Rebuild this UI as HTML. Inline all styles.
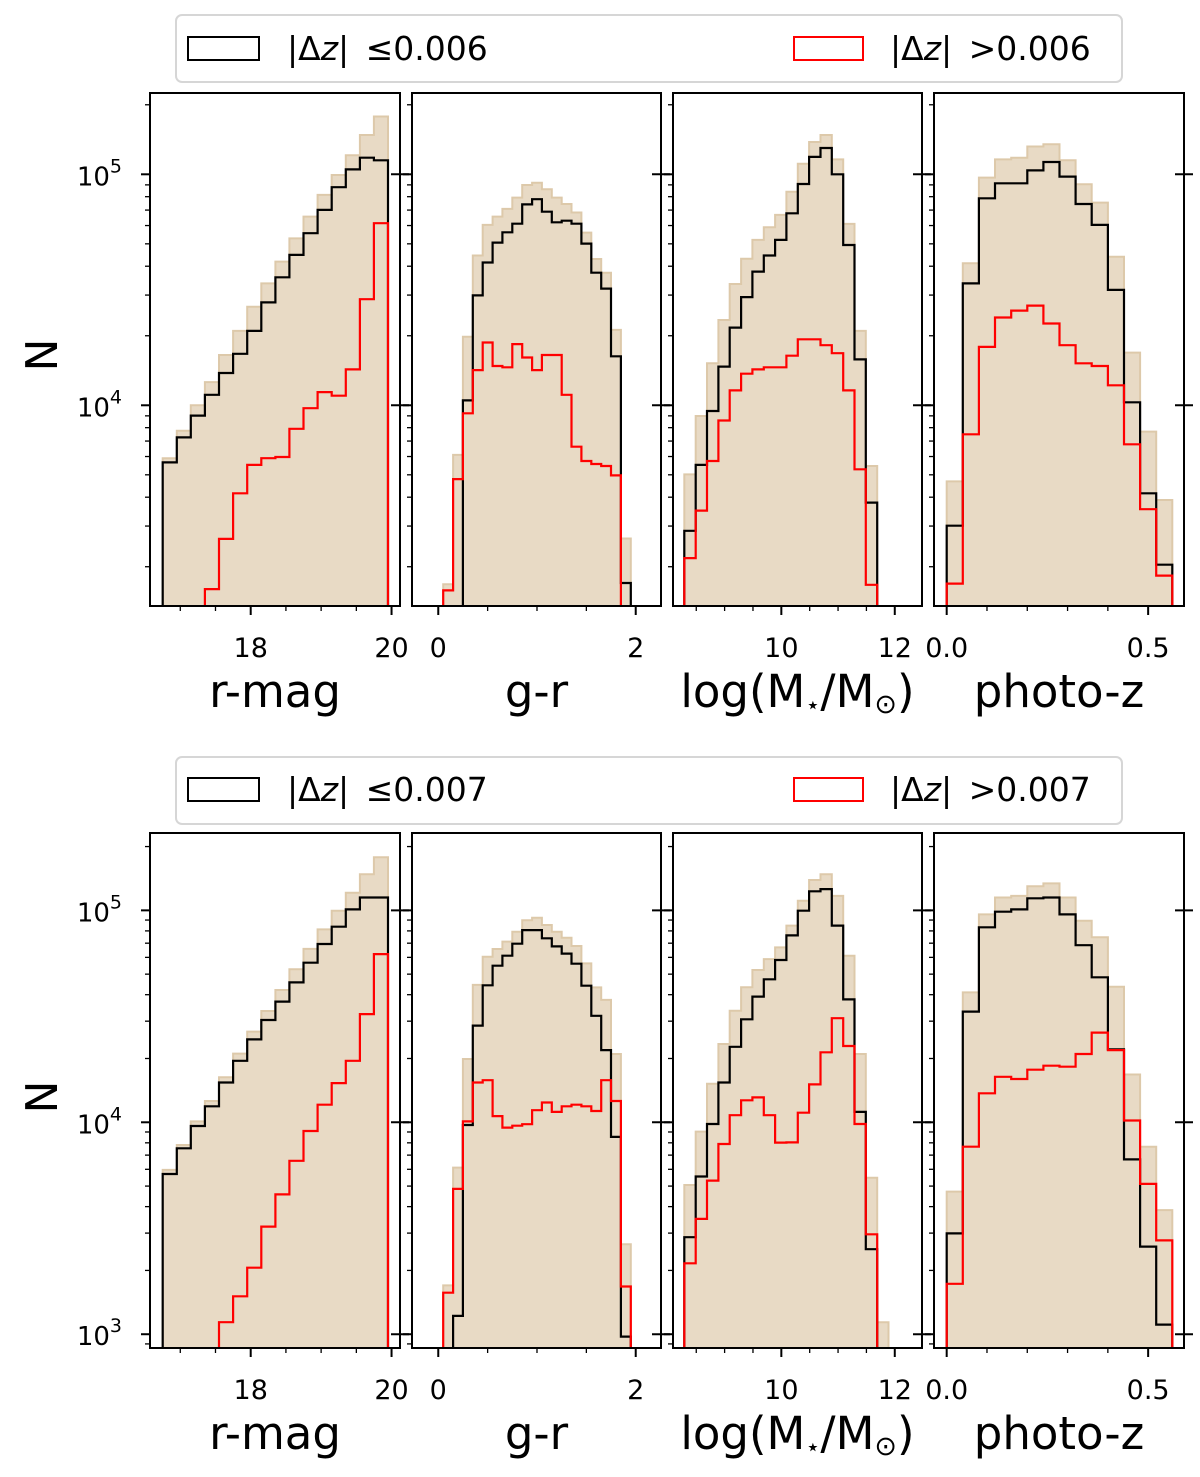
<!DOCTYPE html>
<html><head><meta charset="utf-8"><style>
html,body{margin:0;padding:0;background:#fff;}
svg{display:block;font-family:"DejaVu Sans","Liberation Sans",sans-serif;}
</style></head><body>
<svg id="chart" width="1200" height="1477" viewBox="0 0 1200 1477" xmlns="http://www.w3.org/2000/svg">
<g>
<rect x="176" y="15" width="946" height="67" rx="6" fill="#fff" stroke="#d6d6d6" stroke-width="2"/>
<rect x="188" y="37" width="71" height="23" fill="none" stroke="#000" stroke-width="2"/>
<text x="287" y="60" font-size="33">|Δ<tspan font-style="italic">z</tspan>| <tspan dx="6">≤</tspan>0.006</text>
<rect x="794" y="37" width="69" height="23" fill="none" stroke="#f00" stroke-width="2"/>
<text x="890" y="60" font-size="33">|Δ<tspan font-style="italic">z</tspan>| <tspan dx="6">&gt;</tspan>0.006</text>
</g>
<g>
<rect x="176" y="757" width="946" height="67" rx="6" fill="#fff" stroke="#d6d6d6" stroke-width="2"/>
<rect x="188" y="778" width="71" height="23" fill="none" stroke="#000" stroke-width="2"/>
<text x="287" y="801" font-size="33">|Δ<tspan font-style="italic">z</tspan>| <tspan dx="6">≤</tspan>0.007</text>
<rect x="794" y="778" width="69" height="23" fill="none" stroke="#f00" stroke-width="2"/>
<text x="890" y="801" font-size="33">|Δ<tspan font-style="italic">z</tspan>| <tspan dx="6">&gt;</tspan>0.007</text>
</g>
<text transform="translate(57,355) rotate(-90)" text-anchor="middle" font-size="44">N</text>
<text transform="translate(57,1097) rotate(-90)" text-anchor="middle" font-size="44">N</text>
<g id="plots"></g>
</svg>
<script>
// ---- bin definitions (value units) ----
const rmagEdgeStart = 16.75, rmagBinWidth = 0.2;
const grEdgeStart = 0.05, grBinWidth = 0.1;
const massEdgeStart = 8.29, massBinWidth = 0.2;
const pzEdgeStart = 0.0, pzBinWidth = 0.04;

// ---- TOP ROW (|dz| 0.006) ----
const rmagAllTop  = [5900,7760,10000,12600,16500,21000,26700,33700,41900,52800,65600,81400,99300,121000,148000,178000];
const rmagLowTop  = [5660,7260,9020,11100,13800,16700,21000,27900,35800,44800,55600,70100,87900,105000,118000,115000];
const rmagHighTop = [0,0,0,1600,2640,4160,5520,5900,5970,7910,9710,11400,11000,14300,28800,61400];

const grAllTop  = [1680,6100,19800,44500,60400,65600,70800,79300,89900,92000,86100,79300,74400,68300,55900,43000,37500,21200,2650];
const grLowTop  = [0,0,10500,29900,41500,50600,56100,61100,74100,78000,68900,62000,63000,61100,50100,37500,32000,16300,1700];
const grHighTop = [1580,4790,9230,14200,18700,14800,14600,18400,16100,14200,16500,16500,11100,6620,5740,5570,5460,4970,0];

const massAllTop  = [5020,8990,15200,23400,33500,43100,52000,59000,66700,84100,111000,138000,148000,116000,61000,21000,5460];
const massLowTop  = [2860,5520,9450,14700,21700,29400,37900,44500,52000,67800,90800,119000,130000,100000,49400,15800,3790];
const massHighTop = [2180,3500,5740,8590,11600,13700,14300,14600,14600,16400,19300,19300,18200,16800,11600,5280,1670];

const pzAllTop  = [4680,41200,96800,116000,118000,132000,135000,115000,90600,75400,44000,16900,7690,3890];
const pzLowTop  = [3010,33700,78700,91400,91400,104000,113000,97700,74400,60400,31600,10300,4160,2040];
const pzHighTop = [1690,7490,17900,24000,25700,27000,22600,18200,15200,14800,12200,6780,3550,1830];

// ---- BOTTOM ROW (|dz| 0.007) ----
const rmagAllBot  = [5960,7810,10100,12600,16300,21100,26800,33500,42100,52700,65800,81300,99500,121000,148000,178000];
const rmagLowBot  = [5700,7540,9610,11900,15400,19500,24600,30400,37100,45700,56600,69400,83700,101000,115000,115000];
const rmagHighBot = [0,0,0,0,1140,1510,2060,3220,4570,6580,9100,12100,15300,19500,32400,62200];

const grAllBot  = [1700,6110,19900,44500,60400,65700,71200,79300,89900,92300,85300,79300,74300,67900,56200,43300,37800,21000,2660];
const grLowBot  = [0,1220,9710,28600,44300,54800,61100,69600,80700,80700,73800,67600,62500,56000,44100,31800,21900,8530,975];
const grHighBot = [1570,4850,10100,15400,15800,10700,9440,9640,9790,11400,12400,11200,11900,12100,11900,11300,15800,12600,1680];

const massAllBot  = [5060,9040,15200,23400,33600,43400,52300,58900,66900,84700,111000,139000,148000,117000,61100,21000,5480,1140];
const massLowBot  = [2870,5550,9820,15400,22700,30600,39200,47300,58300,76200,99600,123000,126000,84700,38000,11200,2520,0];
const massHighBot = [2160,3500,5310,7900,10800,12700,13100,10800,8020,8040,11100,15100,21400,31000,22900,9820,2960,0];

const pzAllBot  = [4710,41000,95700,115000,117000,130000,134000,115000,89300,74600,43600,16800,7670,3850];
const pzLowBot  = [2990,33300,83200,98600,101000,114000,115000,95700,68500,48300,22100,6680,2590,1110];
const pzHighBot = [1730,7670,13700,16400,16000,17700,18500,18300,21000,26500,21900,10200,5120,2770];

// ---- tick labels ----
const yTickExpTop = [4,5];
const yTickExpBot = [3,4,5];
const rmagTicks = [18,20], grTicks = [0,2], massTicks = [10,12], pzTicks = [0.0,0.5];
const rmagTickLabels = ["18","20"], grTickLabels = ["0","2"], massTickLabels = ["10","12"], pzTickLabels = ["0.0","0.5"];

const NS = "http://www.w3.org/2000/svg";
const plots = document.getElementById('plots');
function mk(tag, attrs, parent){ const e=document.createElementNS(NS,tag); for(const k in attrs) e.setAttribute(k,attrs[k]); (parent||plots).appendChild(e); return e; }

const rows = [
  {top:93, bot:606, lmin:3.131, lmax:5.352, exps:yTickExpTop, sets:[
    [rmagAllTop,rmagLowTop,rmagHighTop],[grAllTop,grLowTop,grHighTop],[massAllTop,massLowTop,massHighTop],[pzAllTop,pzLowTop,pzHighTop]]},
  {top:833, bot:1348, lmin:2.935, lmax:5.365, exps:yTickExpBot, sets:[
    [rmagAllBot,rmagLowBot,rmagHighBot],[grAllBot,grLowBot,grHighBot],[massAllBot,massLowBot,massHighBot],[pzAllBot,pzLowBot,pzHighBot]]}
];
const cols = [
  {name:'r-mag', x0:150, x1:400, dmin:16.57, dmax:20.12, start:rmagEdgeStart, w:rmagBinWidth, ticks:rmagTicks, labels:rmagTickLabels, minor:0.5, title:'r-mag'},
  {name:'g-r', x0:412, x1:661, dmin:-0.266, dmax:2.256, start:grEdgeStart, w:grBinWidth, ticks:grTicks, labels:grTickLabels, minor:0.5, title:'g-r'},
  {name:'stellar-mass', x0:673, x1:922, dmin:8.09, dmax:12.48, start:massEdgeStart, w:massBinWidth, ticks:massTicks, labels:massTickLabels, minor:0.5, title:'mass'},
  {name:'photo-z', x0:934, x1:1184, dmin:-0.0315, dmax:0.589, start:pzEdgeStart, w:pzBinWidth, ticks:pzTicks, labels:pzTickLabels, minor:0.1, title:'photo-z'}
];

rows.forEach((row, ri) => {
  const yScale = v => { const l = v>0 ? Math.log10(v) : row.lmin-1; return row.bot - (l-row.lmin)/(row.lmax-row.lmin)*(row.bot-row.top); };
  cols.forEach((col, ci) => {
    const xScale = v => col.x0 + (v-col.dmin)/(col.dmax-col.dmin)*(col.x1-col.x0);
    const g = mk('g', {});
    
    
    const cid = 'clip'+ri+ci;
    const cp = mk('clipPath', {id:cid}, g);
    mk('rect', {x:col.x0, y:row.top, width:col.x1-col.x0, height:row.bot-row.top}, cp);
    const data = row.sets[ci];
    const yb = row.bot + 5;
    function stepPath(vals){
      let d = '';
      vals.forEach((v,i) => {
        const xa = xScale(col.start + i*col.w), xb = xScale(col.start + (i+1)*col.w);
        const y = v>0 ? yScale(v) : yb;
        d += (i===0 ? 'M'+xa.toFixed(1)+','+yb+' ' : '') + 'L'+xa.toFixed(1)+','+y.toFixed(1)+' L'+xb.toFixed(1)+','+y.toFixed(1)+' ';
      });
      d += 'L'+xScale(col.start + vals.length*col.w).toFixed(1)+','+yb;
      return d;
    }
    const pa = mk('path', {d:stepPath(data[0])+' Z', fill:'#e8dac5', stroke:'#ddc9aa', 'stroke-width':2, 'clip-path':'url(#'+cid+')'}, g);
    
    
    const pl = mk('path', {d:stepPath(data[1]), fill:'none', stroke:'#000', 'stroke-width':2.2, 'clip-path':'url(#'+cid+')'}, g);
    
    
    const ph = mk('path', {d:stepPath(data[2]), fill:'none', stroke:'#f00', 'stroke-width':2.2, 'clip-path':'url(#'+cid+')'}, g);
    
    
    const fr = mk('rect', {x:col.x0, y:row.top, width:col.x1-col.x0, height:row.bot-row.top, fill:'none', stroke:'#000', 'stroke-width':2}, g);
    
    
    for(let e=Math.floor(row.lmin); e<=Math.ceil(row.lmax); e++){
      for(let m=1; m<=9; m++){
        const l = e + Math.log10(m);
        if(l<row.lmin || l>row.lmax) continue;
        const y = yScale(Math.pow(10,l));
        const len = m===1 ? 9 : 5;
        mk('line', {x1:col.x0-len, x2:col.x0, y1:y, y2:y, stroke:'#000', 'stroke-width':m===1?2:1.3}, g);
        if(m===1) mk('line', {x1:col.x1-9, x2:col.x1+9, y1:y, y2:y, stroke:'#000', 'stroke-width':2}, g);
      }
    }
    if(ci===0){
      row.exps.forEach(e => {
        const y = yScale(Math.pow(10,e));
        const t = mk('text', {x:122, y:y+11, 'text-anchor':'end', 'font-size':26}, g);
        
        
        t.appendChild(document.createTextNode('10'));
        const s = mk('tspan', {dy:-13, 'font-size':19}, t);
        s.textContent = String(e);
      });
    }
    const mStart = Math.ceil(col.dmin/col.minor - 1e-9);
    for(let k=mStart; k*col.minor<=col.dmax; k++){
      const v = k*col.minor;
      const major = col.ticks.some(t => Math.abs(t-v)<1e-6);
      const x = xScale(v);
      mk('line', {x1:x, x2:x, y1:row.bot, y2:row.bot+(major?9:5), stroke:'#000', 'stroke-width':major?2:1.3}, g);
    }
    col.ticks.forEach((tv,ti) => {
      const t = mk('text', {x:xScale(tv), y:row.bot+51, 'text-anchor':'middle', 'font-size':27}, g);
      
      
      t.textContent = col.labels[ti];
    });
    const xt = mk('text', {x:(col.x0+col.x1)/2, y:row.bot+101, 'text-anchor':'middle', 'font-size':45}, g);
    
    
    if(col.title==='mass'){
      xt.textContent = 'log(M';
      const a = mk('tspan', {'font-size':24, dy:6}, xt); a.textContent='⋆';
      const b = mk('tspan', {dy:-6}, xt); b.textContent='/M';
      const c = mk('tspan', {'font-size':27, dy:6}, xt); c.textContent='⊙';
      const d2 = mk('tspan', {dy:-6}, xt); d2.textContent=')';
    } else xt.textContent = col.title;
  });
});
</script>
</body></html>
